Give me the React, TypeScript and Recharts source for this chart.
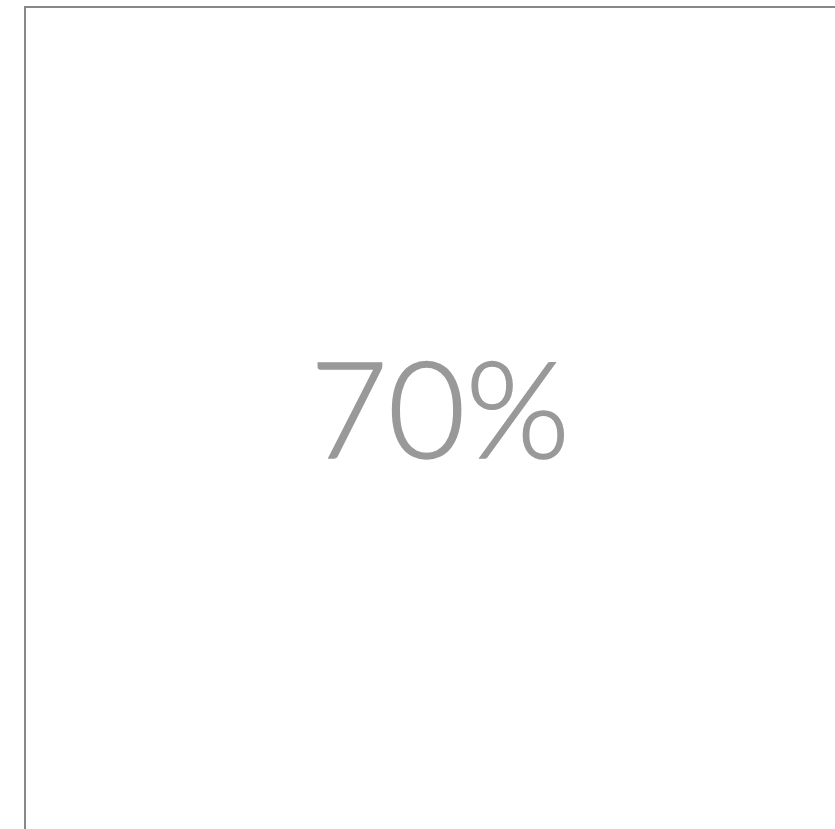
import { PieChart, Pie, Cell, Label } from 'recharts';

const segments = ['filled', 'remaining'];
const values = [70, 30];
const centerText = '70%';

const data = segments.map((name, i) => ({ name, value: values[i] }));

export default function App() {
    return (
        <div
            style={{
                position: 'absolute',
                left: 24,
                top: 6,
                width: 828,
                height: 828,
                border: '2px solid #888888',
                background: '#fff',
            }}
        >
            {/* chart a bit shorter than the box so its centre sits where the label is */}
            <PieChart width={828} height={804}>
                <Pie
                    data={data}
                    dataKey="value"
                    nameKey="name"
                    cx="50%"
                    cy="50%"
                    innerRadius={300}
                    outerRadius={320}
                    startAngle={90}
                    endAngle={-270}
                    stroke="none"
                    isAnimationActive={false}
                >
                    {data.map((d) => (
                        <Cell key={d.name} fill="none" />
                    ))}
                    <Label
                        value={centerText}
                        position="center"
                        fill="#999999"
                        stroke="#999999"
                        strokeWidth={1.6}
                        style={{ fontFamily: 'Lato', fontWeight: 300, fontSize: 134 }}
                    />
                </Pie>
            </PieChart>
        </div>
    );
}
